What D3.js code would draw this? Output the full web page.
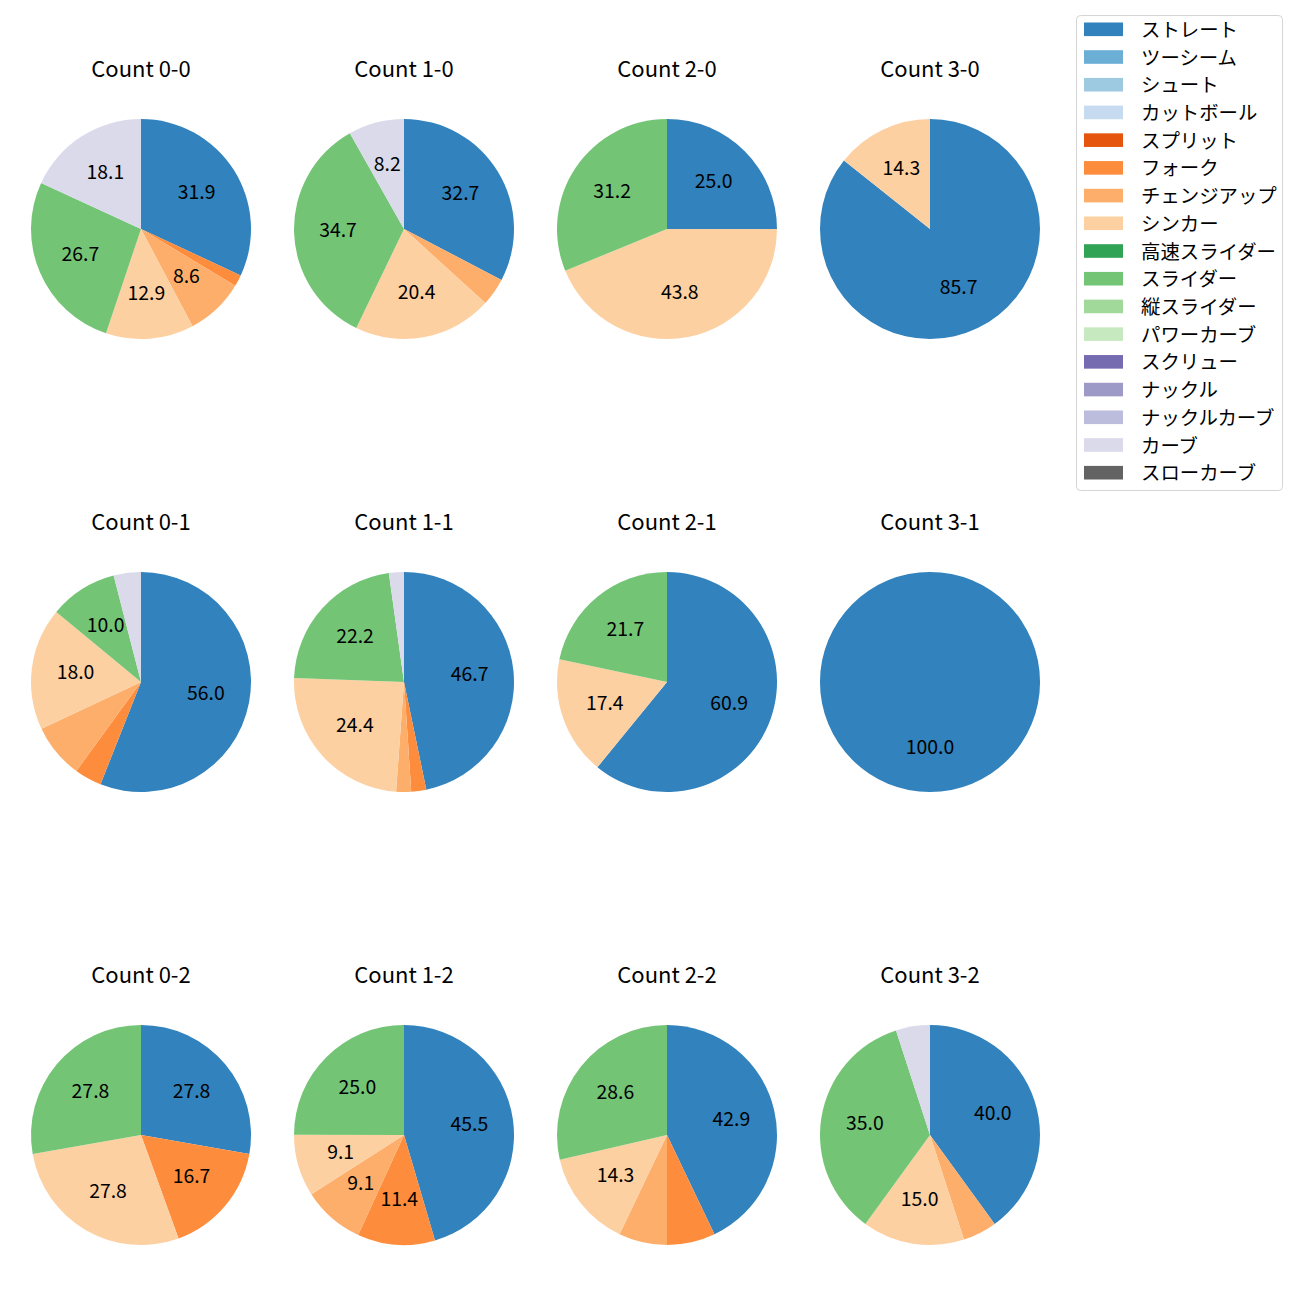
<!DOCTYPE html>
<html><head><meta charset="utf-8">
<script src="https://cdn.jsdelivr.net/npm/d3@7"></script>
<style>body{margin:0;background:#fff}svg{display:block}text{font-family:"Noto Sans CJK JP","Noto Sans",sans-serif;font-weight:400}</style>
</head><body>
<script>
const pitchTypes = ["ストレート","ツーシーム","シュート","カットボール","スプリット","フォーク","チェンジアップ","シンカー","高速スライダー","スライダー","縦スライダー","パワーカーブ","スクリュー","ナックル","ナックルカーブ","カーブ","スローカーブ"];
const pitchColors = ["#3182bd","#6baed6","#9ecae1","#c6dbef","#e6550d","#fd8d3c","#fdae6b","#fdd0a2","#31a354","#74c476","#a1d99b","#c7e9c0","#756bb1","#9e9ac8","#bcbddc","#dadaeb","#636363"];
const countLabels = ["0-0","1-0","2-0","3-0","0-1","1-1","2-1","3-1","0-2","1-2","2-2","3-2"];
// percentages, in pitchTypes order
const v00 = [31.9,0,0,0,0,1.7,8.6,12.9,0,26.7,0,0,0,0,0,18.1,0];
const v10 = [32.7,0,0,0,0,0,4.1,20.4,0,34.7,0,0,0,0,0,8.2,0];
const v20 = [25.0,0,0,0,0,0,0,43.8,0,31.2,0,0,0,0,0,0,0];
const v30 = [85.7,0,0,0,0,0,0,14.3,0,0,0,0,0,0,0,0,0];
const v01 = [56.0,0,0,0,0,4.0,8.0,18.0,0,10.0,0,0,0,0,0,4.0,0];
const v11 = [46.7,0,0,0,0,2.2,2.2,24.4,0,22.2,0,0,0,0,0,2.2,0];
const v21 = [60.9,0,0,0,0,0,0,17.4,0,21.7,0,0,0,0,0,0,0];
const v31 = [100.0,0,0,0,0,0,0,0,0,0,0,0,0,0,0,0,0];
const v02 = [27.8,0,0,0,0,16.7,0,27.8,0,27.8,0,0,0,0,0,0,0];
const v12 = [45.5,0,0,0,0,11.4,9.1,9.1,0,25.0,0,0,0,0,0,0,0];
const v22 = [42.9,0,0,0,0,7.1,7.1,14.3,0,28.6,0,0,0,0,0,0,0];
const v32 = [40.0,0,0,0,0,0,5.0,15.0,0,35.0,0,0,0,0,0,5.0,0];
const countValues = [v00,v10,v20,v30,v01,v11,v21,v31,v02,v12,v22,v32];
const labelThreshold = 8.1;

const W = 1300, H = 1300;
const svg = d3.select("body").append("svg").attr("width", W).attr("height", H);
const colX = d3.scalePoint().domain([0,1,2,3]).range([141, 930]);
const rowY = d3.scalePoint().domain([0,1,2]).range([229, 1135]);
const R = 110;
const color = d3.scaleOrdinal().domain(pitchTypes).range(pitchColors);
const pie = d3.pie().sort(null).value(d => d.v).startAngle(0).endAngle(2*Math.PI);
const arc = d3.arc().innerRadius(0).outerRadius(R);
const labelArc = d3.arc().innerRadius(R*0.6).outerRadius(R*0.6);

countLabels.forEach((lab, i) => {
  const cx = colX(i % 4), cy = rowY(Math.floor(i / 4));
  const data = pitchTypes.map((p, k) => ({p, v: countValues[i][k]})).filter(d => d.v > 0);
  const total = d3.sum(data, d => d.v);
  const g = svg.append("g").attr("transform", `translate(${cx},${cy})`);
  const arcs = pie(data);
  g.selectAll("path").data(arcs).join("path")
    .attr("d", arc).attr("fill", d => color(d.data.p));
  g.selectAll("text.lbl").data(arcs.filter(d => d.data.v / total * 100 >= labelThreshold)).join("text")
    .attr("class", "lbl")
    .attr("transform", d => {
      const c = data.length === 1 ? [0, R*0.6] : labelArc.centroid(d);
      return `translate(${c[0]},${c[1] + 5.6})`;
    })
    .attr("text-anchor", "middle")
    .attr("font-size", "19.4px").attr("fill", "#000")
    .text(d => d3.format(".1f")(d.data.v / total * 100));
  svg.append("text").attr("x", cx).attr("y", cy - 152.3)
    .attr("text-anchor", "middle")
    .attr("font-size", "22px").attr("fill", "#000")
    .text("Count " + lab);
});

// legend
const lg = svg.append("g");
lg.append("rect").attr("x", 1076.5).attr("y", 15.5).attr("width", 206).attr("height", 475)
  .attr("rx", 4).attr("fill", "#fff").attr("fill-opacity", 0.8).attr("stroke", "#d5d5d5");
const ly = d3.scaleLinear().domain([0, 16]).range([29.3, 472.7]);
pitchTypes.forEach((p, i) => {
  lg.append("rect").attr("x", 1084).attr("y", ly(i) - 6.8).attr("width", 39).attr("height", 13.6).attr("fill", color(p));
  lg.append("text").attr("x", 1141).attr("y", ly(i) + 7.6)
    .attr("font-size", "19.4px").attr("fill", "#000").text(p);
});
</script>
</body></html>
